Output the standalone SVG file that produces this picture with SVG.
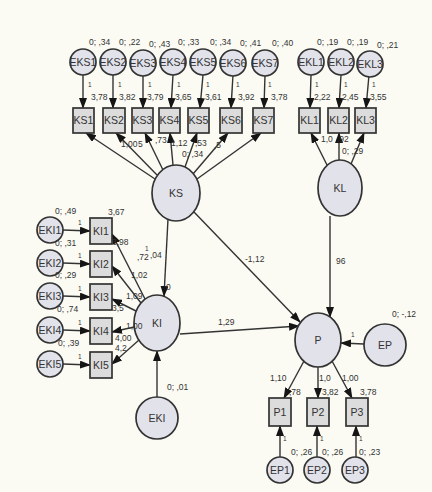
<svg xmlns="http://www.w3.org/2000/svg" width="432" height="492" viewBox="0 0 432 492">
<defs>
<marker id="ah" markerUnits="userSpaceOnUse" markerWidth="11" markerHeight="8" refX="10" refY="4" orient="auto"><path d="M0,0 L11,4 L0,8 z" fill="#151515"/></marker>
<style>
.c{fill:#e2e2ea;stroke:#333;stroke-width:1.7}
.b{fill:#dcdcdc;stroke:#333;stroke-width:1.7}
.n{font-family:"Liberation Sans",Arial,sans-serif;font-size:10.5px;fill:#333;text-anchor:middle}
.l{font-family:"Liberation Sans",Arial,sans-serif;font-size:8.5px;fill:#333}
.s{font-family:"Liberation Sans",Arial,sans-serif;font-size:6.5px;fill:#333}
#conn line{stroke:#333;stroke-width:1.4;marker-end:url(#ah)}
</style>
</defs>
<rect width="432" height="492" fill="#fbfbf4"/>
<g id="conn">
<line x1="83" y1="75" x2="83" y2="108"/><line x1="113" y1="75" x2="113" y2="108"/><line x1="143" y1="75" x2="143" y2="108"/><line x1="173" y1="75" x2="171" y2="108"/><line x1="203" y1="75" x2="200" y2="108"/><line x1="233" y1="75" x2="231" y2="108"/><line x1="265" y1="75" x2="264" y2="108"/>
<line x1="311" y1="75" x2="310" y2="108"/><line x1="341" y1="75" x2="339" y2="108"/><line x1="369" y1="75" x2="366" y2="108"/>
<line x1="155" y1="179" x2="86" y2="133"/><line x1="157" y1="175" x2="116" y2="133"/><line x1="163" y1="170" x2="145" y2="133"/><line x1="173" y1="165" x2="170" y2="133"/><line x1="185" y1="167" x2="197" y2="133"/><line x1="193" y1="174" x2="228" y2="133"/><line x1="197" y1="179" x2="261" y2="133"/>
<line x1="327" y1="165" x2="311" y2="133"/><line x1="339" y1="160" x2="339" y2="133"/><line x1="351" y1="164" x2="364" y2="133"/>
<line x1="145" y1="299" x2="112" y2="234"/><line x1="141" y1="303" x2="112" y2="266"/><line x1="136" y1="311" x2="112" y2="299"/><line x1="134" y1="327" x2="112" y2="332"/><line x1="139" y1="340" x2="112" y2="364"/>
<line x1="63" y1="230" x2="90" y2="231"/><line x1="63" y1="263" x2="90" y2="264"/><line x1="63" y1="296" x2="90" y2="297"/><line x1="63" y1="330" x2="90" y2="331"/><line x1="63" y1="364" x2="90" y2="365"/>
<line x1="168" y1="219" x2="164" y2="296"/>
<line x1="194" y1="212" x2="300" y2="322"/>
<line x1="330" y1="216" x2="330" y2="317"/>
<line x1="180" y1="334" x2="299" y2="326"/>
<line x1="364" y1="344" x2="341" y2="343"/>
<line x1="304" y1="361" x2="284" y2="398"/><line x1="318" y1="367" x2="318" y2="398"/><line x1="332" y1="361" x2="352" y2="398"/>
<line x1="280" y1="457" x2="280" y2="426"/><line x1="317" y1="457" x2="317" y2="426"/><line x1="356" y1="457" x2="356" y2="426"/>
<line x1="157" y1="397" x2="157" y2="351"/>
</g>
<g id="EKS1"><circle class="c" cx="83" cy="62" r="13"/><text class="n" x="83" y="66">EKS1</text></g>
<g id="EKS2"><circle class="c" cx="113" cy="62" r="13"/><text class="n" x="113" y="66">EKS2</text></g>
<g id="EKS3"><circle class="c" cx="143" cy="63" r="13"/><text class="n" x="143" y="67">EKS3</text></g>
<g id="EKS4"><circle class="c" cx="173" cy="62" r="13"/><text class="n" x="173" y="66">EKS4</text></g>
<g id="EKS5"><circle class="c" cx="203" cy="62" r="13"/><text class="n" x="203" y="66">EKS5</text></g>
<g id="EKS6"><circle class="c" cx="233" cy="63" r="13"/><text class="n" x="233" y="67">EKS6</text></g>
<g id="EKS7"><circle class="c" cx="265" cy="63" r="13"/><text class="n" x="265" y="67">EKS7</text></g>
<g id="EKL1"><circle class="c" cx="311" cy="62" r="13"/><text class="n" x="311" y="66">EKL1</text></g>
<g id="EKL2"><circle class="c" cx="341" cy="62" r="13"/><text class="n" x="341" y="66">EKL2</text></g>
<g id="EKL3"><circle class="c" cx="370" cy="64" r="13"/><text class="n" x="370" y="68">EKL3</text></g>
<g id="KS1"><rect class="b" x="73" y="108" width="21" height="25"/><text class="n" x="83.5" y="124">KS1</text></g>
<g id="KS2"><rect class="b" x="103" y="108" width="22" height="25"/><text class="n" x="114" y="124">KS2</text></g>
<g id="KS3"><rect class="b" x="132" y="108" width="21" height="25"/><text class="n" x="142.5" y="124">KS3</text></g>
<g id="KS4"><rect class="b" x="159" y="108" width="21" height="25"/><text class="n" x="169.5" y="124">KS4</text></g>
<g id="KS5"><rect class="b" x="188" y="108" width="21" height="25"/><text class="n" x="198.5" y="124">KS5</text></g>
<g id="KS6"><rect class="b" x="220" y="108" width="22" height="25"/><text class="n" x="231" y="124">KS6</text></g>
<g id="KS7"><rect class="b" x="253" y="108" width="21" height="25"/><text class="n" x="263.5" y="124">KS7</text></g>
<g id="KL1"><rect class="b" x="299" y="108" width="21" height="25"/><text class="n" x="309.5" y="124">KL1</text></g>
<g id="KL2"><rect class="b" x="328" y="108" width="21" height="25"/><text class="n" x="338.5" y="124">KL2</text></g>
<g id="KL3"><rect class="b" x="355" y="108" width="21" height="25"/><text class="n" x="365.5" y="124">KL3</text></g>
<g id="KS"><ellipse class="c" cx="176" cy="193" rx="24" ry="28"/><text class="n" x="176" y="197">KS</text></g>
<g id="KL"><ellipse class="c" cx="340" cy="188" rx="22" ry="28"/><text class="n" x="340" y="192">KL</text></g>
<g id="EKI1"><circle class="c" cx="50" cy="230" r="13"/><text class="n" x="50" y="234">EKI1</text></g>
<g id="EKI2"><circle class="c" cx="50" cy="263" r="13"/><text class="n" x="50" y="267">EKI2</text></g>
<g id="EKI3"><circle class="c" cx="50" cy="296" r="13"/><text class="n" x="50" y="300">EKI3</text></g>
<g id="EKI4"><circle class="c" cx="50" cy="330" r="13"/><text class="n" x="50" y="334">EKI4</text></g>
<g id="EKI5"><circle class="c" cx="50" cy="364" r="13"/><text class="n" x="50" y="368">EKI5</text></g>
<g id="KI1"><rect class="b" x="90" y="218" width="22" height="26"/><text class="n" x="101" y="235">KI1</text></g>
<g id="KI2"><rect class="b" x="90" y="251" width="22" height="26"/><text class="n" x="101" y="268">KI2</text></g>
<g id="KI3"><rect class="b" x="90" y="284" width="22" height="26"/><text class="n" x="101" y="301">KI3</text></g>
<g id="KI4"><rect class="b" x="90" y="318" width="22" height="26"/><text class="n" x="101" y="335">KI4</text></g>
<g id="KI5"><rect class="b" x="90" y="352" width="22" height="26"/><text class="n" x="101" y="369">KI5</text></g>
<g id="KI"><ellipse class="c" cx="157" cy="323" rx="23" ry="28"/><text class="n" x="157" y="327">KI</text></g>
<g id="EKI"><circle class="c" cx="157" cy="418" r="21"/><text class="n" x="157" y="422">EKI</text></g>
<g id="P"><ellipse class="c" cx="318" cy="340" rx="23" ry="27"/><text class="n" x="318" y="344">P</text></g>
<g id="EP"><circle class="c" cx="385" cy="345" r="21"/><text class="n" x="385" y="349">EP</text></g>
<g id="P1"><rect class="b" x="269" y="398" width="22" height="28"/><text class="n" x="280" y="416">P1</text></g>
<g id="P2"><rect class="b" x="307" y="398" width="22" height="28"/><text class="n" x="318" y="416">P2</text></g>
<g id="P3"><rect class="b" x="346" y="398" width="22" height="28"/><text class="n" x="357" y="416">P3</text></g>
<g id="EP1"><circle class="c" cx="280" cy="470" r="13"/><text class="n" x="280" y="474">EP1</text></g>
<g id="EP2"><circle class="c" cx="317" cy="470" r="13"/><text class="n" x="317" y="474">EP2</text></g>
<g id="EP3"><circle class="c" cx="355" cy="470" r="13"/><text class="n" x="355" y="474">EP3</text></g>
<g id="labels">
<text class="l" x="89" y="45">0; ,34</text><text class="l" x="119" y="45">0; ,22</text><text class="l" x="149" y="47">0; ,43</text><text class="l" x="178" y="45">0; ,33</text><text class="l" x="210" y="45">0; ,34</text><text class="l" x="240" y="46">0; ,41</text><text class="l" x="272" y="46">0; ,40</text>
<text class="l" x="317" y="45">0; ,19</text><text class="l" x="347" y="45">0; ,19</text><text class="l" x="377" y="48">0; ,21</text>
<text class="s" x="88" y="87">1</text><text class="s" x="118" y="87">1</text><text class="s" x="148" y="87">1</text><text class="s" x="177" y="87">1</text><text class="s" x="206" y="87">1</text><text class="s" x="236" y="87">1</text><text class="s" x="268" y="87">1</text>
<text class="s" x="315" y="87">1</text><text class="s" x="344" y="87">1</text><text class="s" x="372" y="87">1</text>
<text class="l" x="91" y="100">3,78</text><text class="l" x="119" y="100">3,82</text><text class="l" x="147" y="100">3,79</text><text class="l" x="175" y="100">3,65</text><text class="l" x="205" y="100">3,61</text><text class="l" x="238" y="100">3,92</text><text class="l" x="271" y="100">3,78</text>
<text class="l" x="314" y="100">2,22</text><text class="l" x="342" y="100">2,45</text><text class="l" x="370" y="100">3,55</text>
<text class="l" x="121" y="147">1,00</text><text class="l" x="138" y="147">5</text><text class="l" x="155" y="143">,73</text><text class="l" x="171" y="146">1,12</text><text class="l" x="195" y="146">,53</text><text class="l" x="214" y="148">,5</text><text class="l" x="182" y="157">0; ,34</text>
<text class="l" x="321" y="142">1,0</text><text class="l" x="337" y="142">,92</text><text class="l" x="342" y="154">0; ,29</text>
<text class="l" x="55" y="214">0; ,49</text><text class="l" x="55" y="246">0; ,31</text><text class="l" x="55" y="278">0; ,29</text><text class="l" x="57" y="312">0; ,74</text><text class="l" x="58" y="346">0; ,39</text>
<text class="s" x="78" y="225">1</text><text class="s" x="78" y="258">1</text><text class="s" x="78" y="291">1</text><text class="s" x="78" y="325">1</text><text class="s" x="78" y="359">1</text>
<text class="l" x="108" y="215">3,67</text><text class="l" x="112" y="245">3,98</text><text class="s" x="145" y="251">1</text><text class="l" x="137" y="260">,72</text><text class="l" x="150" y="258">,04</text>
<text class="l" x="131" y="278">1,02</text><text class="l" x="126" y="299">1,09</text><text class="l" x="112" y="311">3,5</text><text class="l" x="126" y="329">1,00</text><text class="l" x="115" y="341">4,00</text><text class="l" x="115" y="350.5">4,2</text>
<text class="l" x="166" y="290">0</text>
<text class="l" x="245" y="262">-1,12</text><text class="l" x="336" y="264">96</text><text class="l" x="218" y="325">1,29</text>
<text class="l" x="392" y="317">0; -,12</text><text class="s" x="351" y="337">1</text>
<text class="l" x="270" y="381">1,10</text><text class="l" x="319" y="381">1,0</text><text class="l" x="342" y="381">1,00</text>
<text class="l" x="289" y="395">,78</text><text class="l" x="322" y="395">3,82</text><text class="l" x="360" y="395">3,78</text>
<text class="s" x="283" y="441">1</text><text class="s" x="320" y="441">1</text><text class="s" x="359" y="441">1</text>
<text class="l" x="291" y="455">0; ,26</text><text class="l" x="322" y="455">0; ,26</text><text class="l" x="359" y="455">0; ,23</text>
<text class="l" x="167" y="390">0; ,01</text>
</g>
</svg>
